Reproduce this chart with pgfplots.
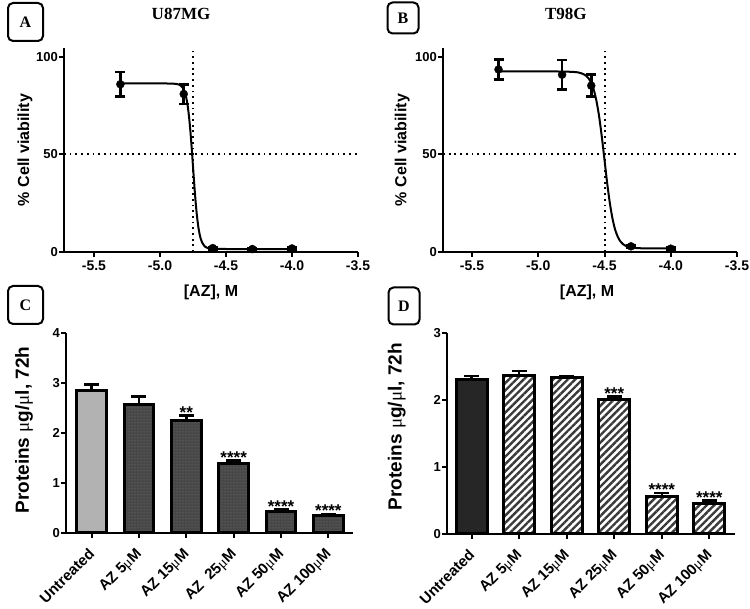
\documentclass[border=0pt]{standalone}
\usepackage{fontspec}
\setmainfont{Liberation Serif}
\setsansfont{Liberation Sans}
\newfontfamily\greekserif{Liberation Serif}
\usepackage{pgfplots}
\pgfplotsset{compat=1.18}
\usetikzlibrary{patterns,patterns.meta}

\newcommand{\mku}{{\greekserif\mdseries μ}}
\newcommand{\sfb}[1]{\sffamily\bfseries\fontsize{#1}{#1}\selectfont}

\definecolor{ctrlC}{HTML}{B2B2B2}
\definecolor{trtC}{HTML}{474747}
\definecolor{dotC}{HTML}{808080}
\definecolor{ctrlD}{HTML}{262626}
\definecolor{hatchD}{HTML}{3A3A3A}

\pgfplotsset{
  panel/.style={
    scale only axis,
    anchor=south west,
    axis lines*=left,
    axis line style={line width=2pt,-},
    tick align=outside,
    major tick length=5pt,
    tick style={line width=2pt,black},
    ticklabel style={font=\sfb{13}},
    yticklabel style={inner xsep=1pt},
    /pgf/number format/assume math mode=true,
    clip=false,
  },
  dose/.style={
    xmin=-5.727, xmax=-3.5, ymin=0, ymax=104.6,
    xtick={-5.5,-5,-4.5,-4,-3.5},
    xticklabels={-5.5,-5.0,-4.5,-4.0,-3.5},
    xticklabel style={font=\sfb{14}},
    ytick={0,50,100},
    xlabel={{[AZ], M}},
    ylabel={\% Cell viability},
    xlabel style={font=\sfb{16},at={(axis description cs:0.5,-0.196)},anchor=center},
    title style={font=\bfseries\fontsize{17}{17}\selectfont,anchor=center,yshift=-6pt},
  },
  refline/.style={line width=2pt,dash pattern=on 1.8pt off 3.9pt,black},
  fitline/.style={line width=2pt,black,smooth,tension=0.4},
  pts/.style={only marks,mark=*,mark size=4pt,black,
    error bars/y dir=both,error bars/y explicit,
    error bars/error bar style={line width=2.5pt,black},
    error bars/error mark options={rotate=90,mark size=5pt,line width=2.5pt,black}},
  prot/.style={
    ybar, bar shift=0pt,
    ymin=0,
    xtick={0,...,5},
    xticklabel style={xshift=-4pt,yshift=-7.5pt,rotate=45,anchor=north east,inner sep=1pt,font=\sfb{15}},
    ylabel={Proteins \mku g/\mku l, 72h},
  },
  barerr/.style={draw=black,line width=3pt,
    error bars/y dir=plus,error bars/y explicit,
    error bars/error bar style={line width=2.5pt,black,solid},
    error bars/error mark options={rotate=90,mark size=7.5pt,line width=2.5pt,black}},
}

\begin{document}
\begin{tikzpicture}[x=1pt,y=1pt]
\path[use as bounding box] (0,0) rectangle (750,609);

% ---------- A: U87MG dose response ----------
\begin{axis}[panel,dose,at={(64pt,357pt)},width=294pt,height=204pt,
  ylabel style={font=\sfb{16},at={(axis description cs:-0.133,0.5)},anchor=center},
  title={U87MG},title style={at={(axis description cs:0.398,1.167)}}]
\addplot[refline] coordinates {(-5.727,50) (-3.5,50)};
\addplot[refline] coordinates {(-4.75,0) (-4.75,104.6)};
\addplot[fitline] coordinates {
  (-5.30,86.5) (-5.10,86.5) (-4.95,86.4) (-4.90,86.3) (-4.87,86.1)
  (-4.85,85.7) (-4.83,84.4) (-4.82,83.2) (-4.81,81.5) (-4.80,78.8)
  (-4.79,74.9) (-4.78,69.4) (-4.77,62.3) (-4.76,53.6) (-4.75,44.0)
  (-4.74,34.4) (-4.73,25.7) (-4.72,18.6) (-4.71,13.1) (-4.70,9.2)
  (-4.69,6.5) (-4.68,4.8) (-4.66,2.8) (-4.63,1.8) (-4.60,1.6)
  (-4.40,1.5) (-4.00,1.5)};
\addplot[pts] coordinates {
  (-5.30,86.0) +- (0,6.3)
  (-4.82,81.0) +- (0,5.0)
  (-4.60,2.0)  +- (0,0.6)
  (-4.30,1.5)  +- (0,0.4)
  (-4.00,1.8)  +- (0,0.5)};
\end{axis}

% ---------- B: T98G dose response ----------
\begin{axis}[panel,dose,at={(443pt,357pt)},width=294pt,height=204pt,
  xmin=-5.719,
  ylabel style={font=\sfb{16},at={(axis description cs:-0.139,0.5)},anchor=center},
  xlabel style={at={(axis description cs:0.49,-0.196)}},
  title={T98G},title style={at={(axis description cs:0.418,1.167)}}]
\addplot[refline] coordinates {(-5.719,50) (-3.5,50)};
\addplot[refline] coordinates {(-4.50,0) (-4.50,104.6)};
\addplot[fitline] coordinates {
  (-5.30,92.6) (-5.00,92.6) (-4.80,92.5) (-4.70,92.1) (-4.65,90.9)
  (-4.62,89.0) (-4.60,86.6) (-4.58,82.9) (-4.56,77.2) (-4.54,69.2)
  (-4.52,58.9) (-4.50,47.2) (-4.48,35.4) (-4.46,25.2) (-4.44,17.2)
  (-4.42,11.5) (-4.40,7.8) (-4.38,5.4) (-4.36,4.0) (-4.33,2.8)
  (-4.30,2.25) (-4.20,1.85) (-4.00,1.8)};
\addplot[pts] coordinates {
  (-5.30,93.6) +- (0,5.2)
  (-4.82,90.9) +- (0,7.6)
  (-4.60,85.3) +- (0,5.7)
  (-4.30,2.9)  +- (0,0.5)
  (-4.00,1.7)  +- (0,0.5)};
\end{axis}

% ---------- C: U87MG protein content ----------
\begin{axis}[panel,prot,at={(66pt,76pt)},width=287pt,height=200pt,
  xmin=-0.54, xmax=5.52, ymax=4, ytick={0,1,2,3,4},
  bar width=0.63,
  xticklabels={Untreated,AZ 5\mku M,AZ 15\mku M,AZ\ \ 25\mku M,AZ 50\mku M,AZ 100\mku M},
  ylabel style={font=\sfb{19},at={(axis description cs:-0.146,0.515)},anchor=center}]
\addplot[barerr,fill=ctrlC] coordinates {(0,2.85) +- (0,0.12)};
\addplot[barerr,preaction={fill=trtC},pattern=dots,pattern color=dotC] coordinates {
  (1,2.57) +- (0,0.16)
  (2,2.25) +- (0,0.10)
  (3,1.38) +- (0,0.07)
  (4,0.43) +- (0,0.04)
  (5,0.35) +- (0,0.03)};
\begin{scope}[every node/.style={font=\sfb{17},anchor=south,inner sep=0pt,yshift=-3pt}]
\node at (axis cs:2,2.35) {**};
\node at (axis cs:3,1.45) {****};
\node at (axis cs:4,0.47) {****};
\node at (axis cs:5,0.38) {****};
\end{scope}
\end{axis}

% ---------- D: T98G protein content ----------
\begin{axis}[panel,prot,at={(447pt,75pt)},width=288pt,height=201pt,
  xmin=-0.52, xmax=5.54, ymax=3, ytick={0,1,2,3},
  bar width=0.65,
  xticklabels={Untreated,AZ 5\mku M,AZ 15\mku M,AZ 25\mku M,AZ 50\mku M,AZ 100\mku M},
  ylabel style={font=\sfb{19},at={(axis description cs:-0.174,0.534)},anchor=center}]
\addplot[barerr,fill=ctrlD] coordinates {(0,2.30) +- (0,0.06)};
\addplot[barerr,fill=white,pattern={Lines[angle=45,distance=5.2pt,line width=2.4pt]},pattern color=hatchD] coordinates {
  (1,2.37) +- (0,0.06)
  (2,2.33) +- (0,0.03)
  (3,2.01) +- (0,0.04)
  (4,0.56) +- (0,0.05)
  (5,0.45) +- (0,0.05)};
\begin{scope}[every node/.style={font=\sfb{17},anchor=south,inner sep=0pt,yshift=-3pt}]
\node at (axis cs:3,2.05) {***};
\node at (axis cs:4,0.61) {****};
\node at (axis cs:5,0.50) {****};
\end{scope}
\end{axis}

% ---------- panel letters ----------
\begin{scope}[every node/.style={draw,line width=2pt,rounded corners=5pt,
    font=\bfseries\fontsize{16}{16}\selectfont,inner sep=0pt}]
\node[minimum width=35pt,minimum height=38pt] at (25.5,587) {A};
\node[minimum width=31pt,minimum height=31pt] at (403,591) {B};
\node[minimum width=35pt,minimum height=38pt] at (25.5,304) {C};
\node[minimum width=31pt,minimum height=37pt] at (404,303) {D};
\end{scope}
\end{tikzpicture}
\end{document}
